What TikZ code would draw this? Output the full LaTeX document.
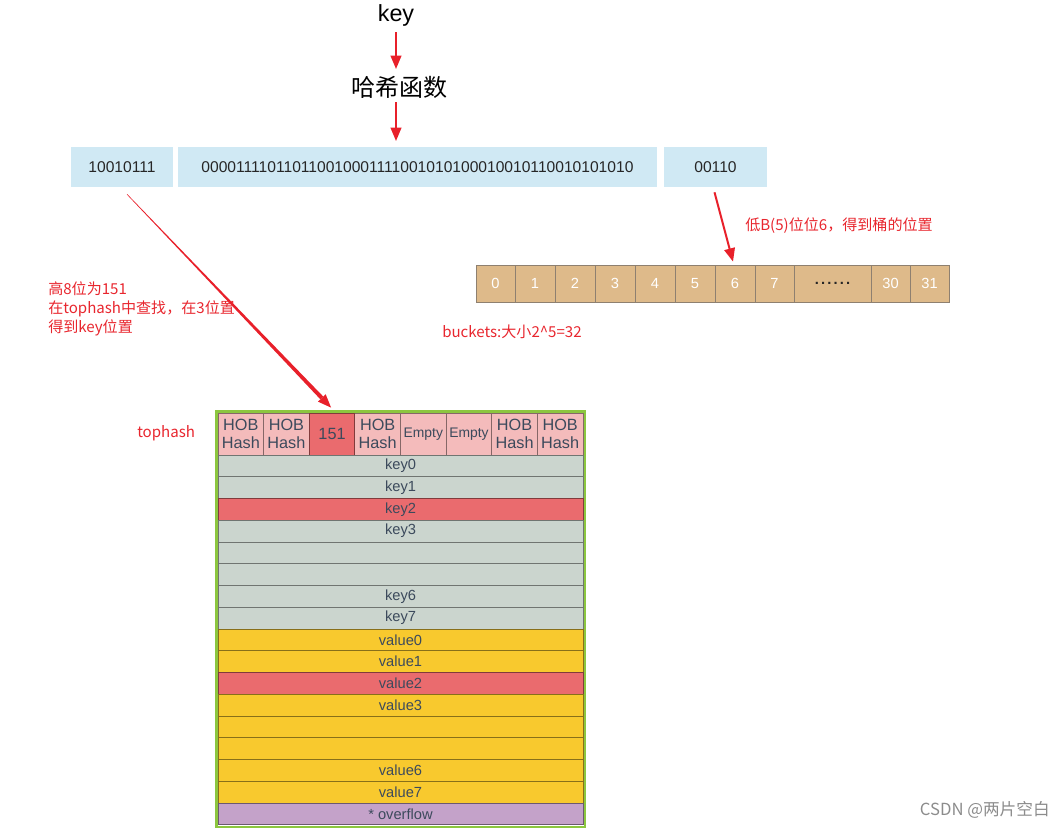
\documentclass[tikz,border=0pt]{standalone}
\usepackage{fontspec}
\setmainfont{Liberation Sans}
\newfontfamily\cjk{Noto Sans CJK SC}
\usetikzlibrary{arrows.meta,calc}
\definecolor{arrred}{HTML}{E8202A}
\definecolor{txtred}{HTML}{E8262E}
\definecolor{boxblue}{HTML}{D0E9F4}
\definecolor{tan}{HTML}{DEBA8A}
\definecolor{tanline}{HTML}{8E8070}
\definecolor{pinkc}{HTML}{F4BBBB}
\definecolor{redc}{HTML}{EA6B6E}
\definecolor{keyc}{HTML}{CBD5CE}
\definecolor{valc}{HTML}{F8C92E}
\definecolor{ovc}{HTML}{C4A2C9}
\definecolor{greenb}{HTML}{8CC63F}
\definecolor{slate}{HTML}{3C4A5C}
\begin{document}
\begin{tikzpicture}[x=0.75pt,y=-0.75pt,
  arr/.style={draw=arrred, line width=1.5pt, -{Triangle[length=10pt,width=8pt]}},
  binbox/.style={fill=boxblue, draw=none, minimum height=30pt, inner sep=0pt, font=\fontsize{11.7}{13}\selectfont, text=black!85},
  bucket/.style={fill=tan, draw=tanline, line width=0.6pt, minimum height=27.75pt, inner sep=0pt, text=white, font=\fontsize{11}{12}\selectfont},
  thcell/.style={fill=pinkc, draw=black!45!pinkc, line width=0.6pt, minimum width=34.22pt, minimum height=31.5pt, inner sep=0pt, align=center, text=slate, font=\fontsize{12.2}{13.5}\selectfont},
  rowcell/.style={draw=black!45!#1, fill=#1, line width=0.6pt, minimum width=273.75pt, minimum height=16.31pt, inner sep=0pt, text=slate, font=\fontsize{11}{12}\selectfont},
  redlbl/.style={text=txtred, inner sep=0pt, font=\cjk\fontsize{11.3}{14.25}\selectfont, align=left}
]
\useasboundingbox (0,0) rectangle (1063,828);

% top
\node[inner sep=0pt, font=\fontsize{17.5}{19}\selectfont] (key) at (396,15) {key};
\node[inner sep=0pt, font=\cjk\fontsize{18}{20}\selectfont] (hash) at (399,87) {哈希函数};

% binary boxes
\node[binbox, minimum width=76.5pt] (b1) at (122,167) {10010111};
\node[binbox, minimum width=359.25pt] (b2) at (417.5,167) {000011110110110010001111001010100010010110010101010};
\node[binbox, minimum width=77.25pt] (b3) at (715.5,167) {00110};

\draw[arr] (key.south |- 0,32) -- (key.south |- 0,69);
\draw[arr] (key.south |- 0,102) -- (key.south |- 0,141);

% buckets
\foreach \l/\r/\t/\n in {476/515/0/c0,515/555/1/c1,555/595/2/c2,595/635/3/c3,635/675/4/c4,675/715/5/c5,715/755/6/c6,755/794/7/c7,871/910/30/c30,910/949/31/c31}
  \node[bucket, minimum width={(\r-\l)*0.75pt}] (\n) at ({(\l+\r)/2},283.5) {\t};
\node[bucket, minimum width={(871-794)*0.75pt}, text=black!85] (cd) at ({(794+871)/2},283.5)
  {\raisebox{-1.5pt}{\bfseries .\kern1.6pt.\kern1.6pt.\kern1.6pt.\kern1.6pt.\kern1.6pt.}};

% tophash row
\foreach \i/\t in {1/{HOB\\Hash},2/{HOB\\Hash},4/{HOB\\Hash},7/{HOB\\Hash},8/{HOB\\Hash}}
  \node[thcell] (th\i) at ({218+(\i-0.5)*45.625},434) {\t};
\node[thcell, fill=redc, draw=black!45!redc] (th3) at ({218+2.5*45.625},434) {151};
\node[thcell, font=\fontsize{10.4}{11}\selectfont] (th5) at ({218+4.5*45.625},434) {Empty};
\node[thcell, font=\fontsize{10.4}{11}\selectfont] (th6) at ({218+5.5*45.625},434) {Empty};

% rows
\foreach \i/\t/\s in {0/key0/keyc,1/key1/keyc,2/key2/redc,3/key3/keyc,4/{}/keyc,5/{}/keyc,6/key6/keyc,7/key7/keyc,
  8/value0/valc,9/value1/valc,10/value2/redc,11/value3/valc,12/{}/valc,13/{}/valc,14/value6/valc,15/value7/valc,16/{* overflow}/ovc}
  \node[rowcell=\s] (r\i) at (400.5,{455+(\i+0.5)*21.75}) {\t};

\draw[greenb, line width=2.2pt] (216.5,411.5) rectangle (585,827);

% connectors
\coordinate (s) at ($(b1.south)+(5,7)$);
\coordinate (t) at ($(th3.north)+(-1,-5)$);
\coordinate (e) at ($(t)!10pt!(s)$);
\fill[arrred] ($(s)!0.2pt!90:(t)$) -- ($(e)!1.5pt!90:(t)$) -- ($(e)!1.5pt!-90:(t)$) -- ($(s)!0.2pt!-90:(t)$) -- cycle;
\fill[arrred] (t) -- ($(e)!4pt!90:(t)$) -- ($(e)!4pt!-90:(t)$) -- cycle;
\draw[arr] ($(b3.south)+(-1,5)$) -- ($(c6.north)+(-2,-3)$);

% labels
\node[redlbl, anchor=west] (lb1) at (745,226) {低B(5)位位6，得到桶的位置};
\node[redlbl, anchor=west] (lb2) at (442,332) {buckets:大小2\textasciicircum5=32};
\node[redlbl, anchor=north west] (lb3) at (48,281) {高8位为151\\在tophash中查找，在3位置\\得到key位置};
\node[redlbl, anchor=west] (lb4) at (137,433) {tophash};

\node[anchor=east, inner sep=0pt, text=black!45, font=\cjk\fontsize{12.5}{14}\selectfont] (wm) at (1050,810) {CSDN @两片空白};
\end{tikzpicture}
\end{document}
